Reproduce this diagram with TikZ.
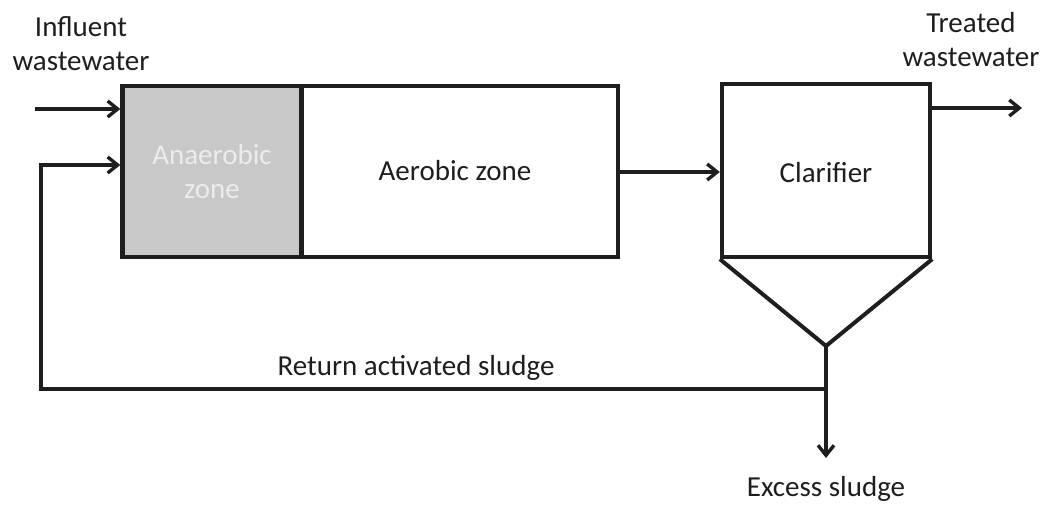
\documentclass[tikz,border=0pt]{standalone}
\usepackage{fontspec}
\setmainfont{Carlito}
\usetikzlibrary{arrows.meta}
\definecolor{ink}{RGB}{30,30,30}
\definecolor{zonegray}{RGB}{200,200,200}
\definecolor{zonetext}{RGB}{236,236,236}
\tikzset{
  box/.style={draw=ink, line width=4.3pt, line join=miter, inner sep=0pt},
  arr/.style={draw=ink, line width=3.4pt, -{Straight Barb[length=10pt,width=16pt,line width=3.4pt]}},
  flow/.style={draw=ink, line width=4pt, line join=miter},
  lbl/.style={text=ink, align=center, font=\fontsize{29}{34}\selectfont, inner sep=0pt}
}
\begin{document}
\begin{tikzpicture}[x=1pt,y=-1pt]
\useasboundingbox (0,0) rectangle (1046,505);
% boxes
\node[box, fill=zonegray, minimum width=179pt, minimum height=171pt] (ana) at (212,171.5) {};
\node[box, minimum width=317pt, minimum height=171pt] (aer) at (459.5,171.5) {};
\node[box, minimum width=208pt, minimum height=173pt] (clar) at (826,170.5) {};
\node[lbl, text=zonetext] (analbl) at (212,172) {Anaerobic\\zone};
\node[lbl] (aerlbl) at (455,171) {Aerobic zone};
\node[lbl] (clarlbl) at (826,173) {Clarifier};
% hopper
\coordinate (apex) at (826,346);
\draw[flow] (clar.south west) -- (apex) -- (clar.south east);
% labels
\node[lbl] (inlbl) at (81,44) {Influent\\wastewater};
\node[lbl] (outlbl) at (971,40) {Treated\\wastewater};
\node[lbl] (retlbl) at (416,368) {Return activated sludge};
\node[lbl] (exlbl) at (826,489) {Excess sludge};
% connectors
\coordinate (in1) at (35,109);
\draw[arr] (in1) -- (in1 -| ana.west);
\draw[arr] (aer.east |- 0,172) -- (clar.west |- 0,172);
\coordinate (tw) at (1022,108);
\draw[arr] (clar.east |- tw) -- (tw);
\coordinate (junc) at (826,389);
\coordinate (rl) at (41,389);
\coordinate (r2) at (41,165);
\draw[arr, line join=miter] (apex) -- (junc) -- (rl) -- (r2) -- (r2 -| ana.west);
\coordinate (ex) at (826,458);
\draw[arr] (junc) -- (ex);
\end{tikzpicture}
\end{document}
